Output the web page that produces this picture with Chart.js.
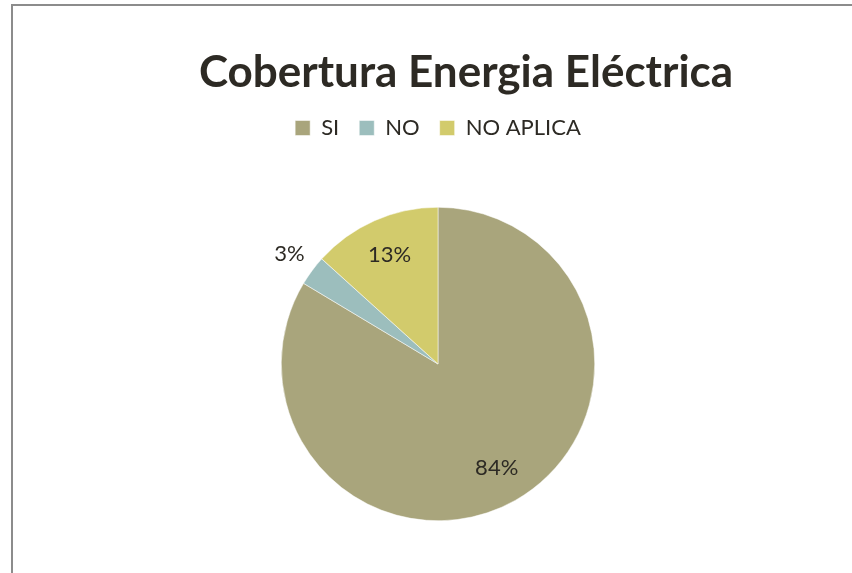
<!DOCTYPE html>
<html>
<head>
<meta charset="utf-8">
<script src="https://cdn.jsdelivr.net/npm/chart.js@4.4.1/dist/chart.umd.min.js"></script>
<style>
  html, body { margin: 0; padding: 0; background: #ffffff; overflow: hidden; }
  #frame { position: absolute; left: 11px; top: 4px; width: 900px; height: 620px; border: 2px solid #8c8c8c; box-sizing: border-box; }
  #wrap { position: absolute; left: 0; top: 0; width: 852px; height: 573px; }
</style>
</head>
<body>
<div id="frame"></div>
<div id="wrap"><canvas id="c" width="852" height="573"></canvas></div>
<script>
const chartTitle = 'Cobertura Energia Eléctrica';
const categories = ['SI', 'NO', 'NO APLICA'];
const values = [83.6, 3.1, 13.3];
const colors = ['#A9A57C', '#9CBEBD', '#D2CB6C'];

const TEXT = '#2d2a24';

const titlePlugin = {
  id: 'customTitle',
  afterDraw(chart) {
    const ctx = chart.ctx;
    ctx.save();
    ctx.font = 'bold 44px Lato';
    ctx.fillStyle = TEXT;
    ctx.textAlign = 'center';
    ctx.textBaseline = 'alphabetic';
    ctx.fillText(chartTitle, 466, 87);
    ctx.restore();
  }
};

const legendSpace = {
  id: 'legendSpace',
  beforeInit(chart) {
    const lg = chart.legend;
    if (!lg) return;
    const origFit = lg.fit;
    lg.fit = function () {
      origFit.call(this);
      this.height += 58;
    };
  }
};

const pctLabels = {
  id: 'pctLabels',
  afterDatasetsDraw(chart) {
    const ctx = chart.ctx;
    const meta = chart.getDatasetMeta(0);
    const total = values.reduce((a, b) => a + b, 0);
    ctx.save();
    ctx.font = '22px Lato';
    ctx.fillStyle = TEXT;
    ctx.textAlign = 'center';
    ctx.textBaseline = 'middle';
    meta.data.forEach((arc, i) => {
      const p = arc.getProps(['x', 'y', 'startAngle', 'endAngle', 'outerRadius'], true);
      const mid = (p.startAngle + p.endAngle) / 2;
      const frac = values[i] / total;
      const rr = frac < 0.06 ? p.outerRadius * 1.18 : p.outerRadius * 0.76;
      const x = p.x + Math.cos(mid) * rr;
      const y = p.y + Math.sin(mid) * rr;
      ctx.fillText(Math.round(frac * 100) + '%', x, y);
    });
    ctx.restore();
  }
};

new Chart(document.getElementById('c'), {
  type: 'pie',
  data: {
    labels: categories,
    datasets: [{
      data: values,
      backgroundColor: colors,
      borderColor: '#ffffff',
      borderWidth: 0.5
    }]
  },
  options: {
    responsive: false,
    animation: false,
    layout: { padding: { top: 97, left: 24, right: 0, bottom: 52 } },
    plugins: {
      title: { display: false },
      tooltip: { enabled: false },
      legend: {
        display: true,
        position: 'top',
        labels: {
          boxWidth: 15,
          boxHeight: 15,
          padding: 20,
          color: TEXT,
          font: { family: 'Lato', size: 22 }
        }
      }
    }
  },
  plugins: [legendSpace, pctLabels, titlePlugin]
});
</script>
</body>
</html>
